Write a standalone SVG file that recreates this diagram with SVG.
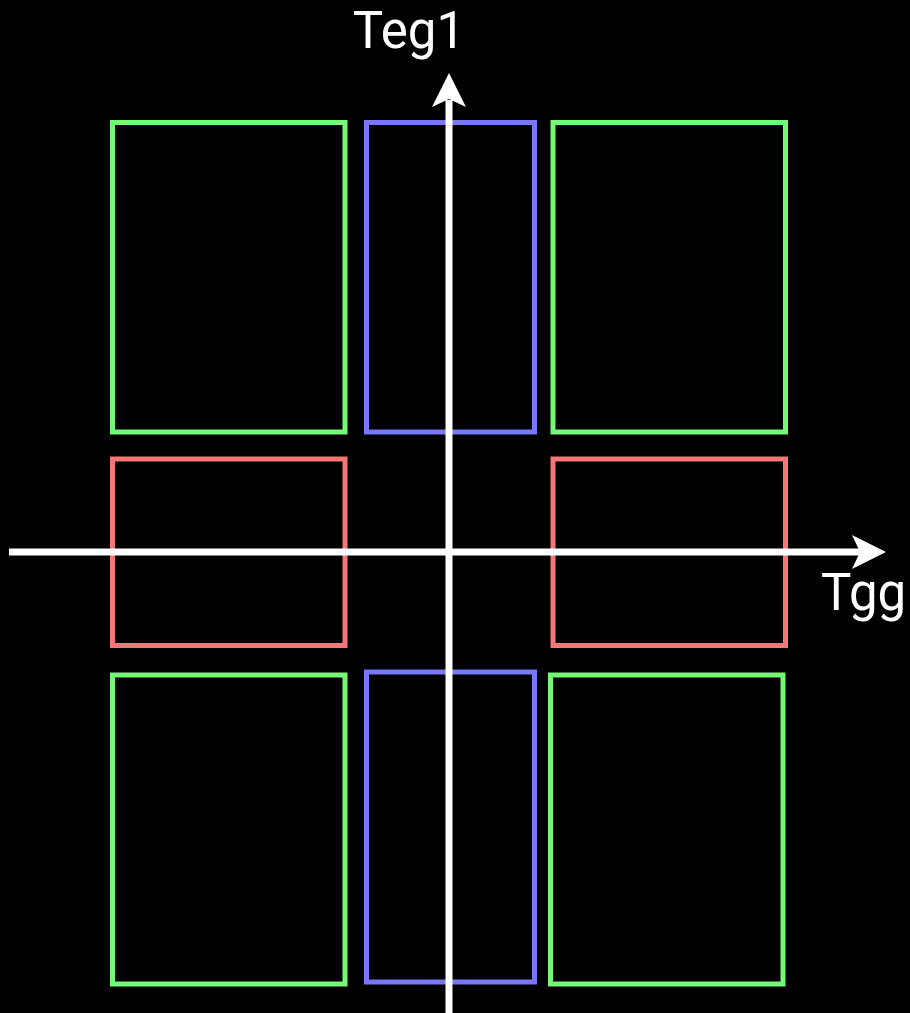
<svg xmlns="http://www.w3.org/2000/svg" width="910" height="1013" viewBox="0 0 910 1013">
  <style>
    .box { fill: none; stroke-width: 5; }
    .green { stroke: #77f777; }
    .blue { stroke: #7777f7; }
    .red { stroke: #f77777; }
    .axis { stroke: #ffffff; stroke-width: 7; fill: none; }
    .head { fill: #ffffff; }
    .label { fill: #ffffff; font-family: Roboto, "Liberation Sans", sans-serif; font-size: 51px; }
  </style>
  <rect width="910" height="1013" fill="#000000"/>

  <g id="node-top-left"><rect class="box green" x="112.5" y="122.5" width="232.5" height="309.5"/></g>
  <g id="node-top-center"><rect class="box blue" x="366.5" y="122.5" width="168" height="309.5"/></g>
  <g id="node-top-right"><rect class="box green" x="553" y="122.5" width="232.5" height="309.5"/></g>
  <g id="node-mid-left"><rect class="box red" x="112.5" y="459" width="232.5" height="186.5"/></g>
  <g id="node-mid-right"><rect class="box red" x="553" y="459" width="232.5" height="186.5"/></g>
  <g id="node-bottom-left"><rect class="box green" x="112.5" y="675" width="232.5" height="309"/></g>
  <g id="node-bottom-center"><rect class="box blue" x="366.5" y="672" width="168" height="310"/></g>
  <g id="node-bottom-right"><rect class="box green" x="550.5" y="675" width="232.5" height="309"/></g>

  <g id="connectors">
    <line class="axis" x1="449" y1="1013" x2="449" y2="100"/>
    <path class="head" d="M449,73 L466,107 L449,99 L432,107 Z"/>
    <line class="axis" x1="9" y1="552" x2="860" y2="552"/>
    <path class="head" d="M886,552 L852,569 L860,552 L852,535 Z"/>
  </g>

  <g id="labels">
    <text class="label" x="409" y="48" text-anchor="middle">Teg1</text>
    <text class="label" x="821" y="610">Tgg</text>
  </g>
</svg>
